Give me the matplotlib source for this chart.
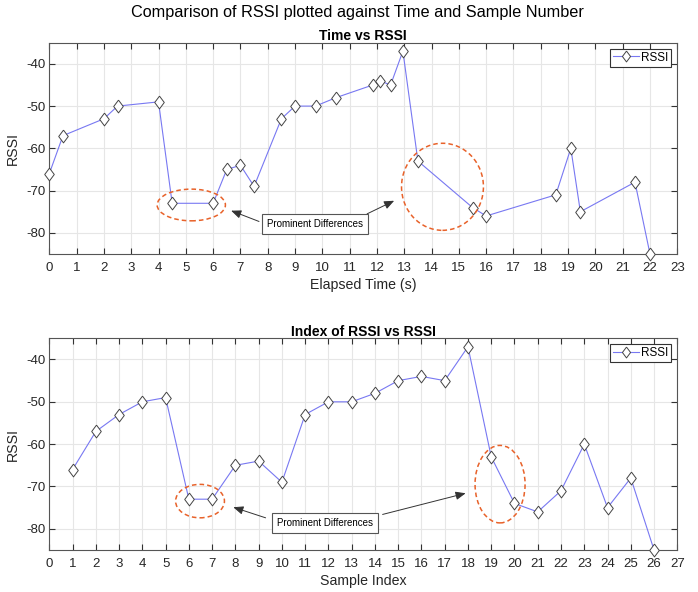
import matplotlib
matplotlib.use("Agg")
import matplotlib.pyplot as plt
from matplotlib.patches import Ellipse

plt.rcParams["font.family"] = ["Liberation Sans", "DejaVu Sans"]
plt.rcParams["axes.unicode_minus"] = False

# data
elapsed_time = [0, 0.5, 2, 2.5, 4, 4.5, 6, 6.5, 7, 7.5, 8.5, 9, 9.75, 10.5,
                11.85, 12.1, 12.5, 12.95, 13.5, 15.5, 16, 18.55, 19.1, 19.45,
                21.45, 22]
sample_index = list(range(1, 27))
rssi = [-66, -57, -53, -50, -49, -73, -73, -65, -64, -69, -53, -50, -50, -48,
        -45, -44, -45, -37, -63, -74, -76, -71, -60, -75, -68, -85]

line_color = "#7878f2"
grid_color = "#e6e6e6"
text_color = "#262626"
note = "Prominent Differences"
# MATLAB-like diamond, a little taller than wide
diamond = [(0, 1), (0.75, 0), (0, -1), (-0.75, 0), (0, 1)]

fig = plt.figure(figsize=(6.98, 5.92), dpi=100)
ax1 = fig.add_axes([49.3 / 698, 1 - 254 / 592, 628 / 698, 211.3 / 592])
ax2 = fig.add_axes([49.3 / 698, 1 - 550 / 592, 628 / 698, 211.7 / 592])


def style(ax, xmax, xlabel, title):
    ax.set_xlim(0, xmax)
    ax.set_ylim(-85, -35)
    ax.set_xticks(range(0, xmax + 1))
    ax.set_yticks([-80, -70, -60, -50, -40])
    ax.grid(True, color=grid_color, linewidth=0.8)
    ax.set_axisbelow(True)
    ax.tick_params(direction="in", top=True, right=True, labelsize=9.5,
                   color="#333333", length=4, labelcolor=text_color)
    ax.tick_params(axis="x", pad=5.5)
    ax.tick_params(axis="y", pad=3)
    for s in ax.spines.values():
        s.set_color("#555555")
        s.set_linewidth(0.8)
    ax.set_xlabel(xlabel, fontsize=10.2, labelpad=3, color=text_color)
    ax.set_ylabel("RSSI", fontsize=10.2, labelpad=4, color=text_color)
    ax.set_title(title, fontsize=10, fontweight="bold", pad=2)


for ax, x, xmax, xlabel, title in [
        (ax1, elapsed_time, 23, "Elapsed Time (s)", "Time vs RSSI"),
        (ax2, sample_index, 27, "Sample Index", "Index of RSSI vs RSSI")]:
    ax.plot(x, rssi, color=line_color, linewidth=0.8, marker=diamond,
            markersize=9.2, markerfacecolor="white", markeredgecolor="#444444",
            markeredgewidth=0.7, label="RSSI", clip_on=False, zorder=3)
    style(ax, xmax, xlabel, title)
    leg = ax.legend(loc="upper right", fontsize=8.5, handlelength=2.2,
                    fancybox=False, framealpha=1, borderaxespad=0.5,
                    borderpad=0.25, handletextpad=0.2, markerscale=0.85)
    leg.get_frame().set_edgecolor("#333333")
    leg.get_frame().set_linewidth(0.8)

ell_style = dict(fill=False, edgecolor="#e8622a", linestyle=(0, (3, 2)),
                 linewidth=1.1, zorder=4)
ax1.add_patch(Ellipse((5.2, -73.4), 2.5, 7.5, **ell_style))
ax1.add_patch(Ellipse((14.4, -69.1), 3.0, 20.6, **ell_style))
ax2.add_patch(Ellipse((6.48, -73.45), 2.1, 7.9, **ell_style))
ax2.add_patch(Ellipse((19.38, -69.45), 2.15, 18.3, **ell_style))

box = dict(boxstyle="square,pad=0.5", facecolor="white", edgecolor="#555555",
           linewidth=0.8)
arrow = dict(arrowstyle="-|>,head_length=0.6,head_width=0.25",
             color="#333333", linewidth=0.7, shrinkA=0, shrinkB=0)


def notes(ax, center, tips, tails):
    ax.text(center[0], center[1], note, fontsize=7, ha="center",
            va="center", bbox=box, zorder=5)
    for tip, tail in zip(tips, tails):
        ax.annotate("", xy=tip, xytext=tail, arrowprops=arrow, zorder=5)


notes(ax1, (9.73, -77.9), [(6.66, -74.75), (12.63, -72.4)],
      [(7.68, -77.3), (11.64, -75.5)])
notes(ax2, (11.85, -78.7), [(7.91, -74.9), (17.9, -71.6)],
      [(9.3, -77.4), (14.33, -76.6)])

fig.suptitle("Comparison of RSSI plotted against Time and Sample Number",
             fontsize=11.7, x=357 / 698, y=1 - 12 / 592, va="center")

fig.savefig("out.png", dpi=100)
